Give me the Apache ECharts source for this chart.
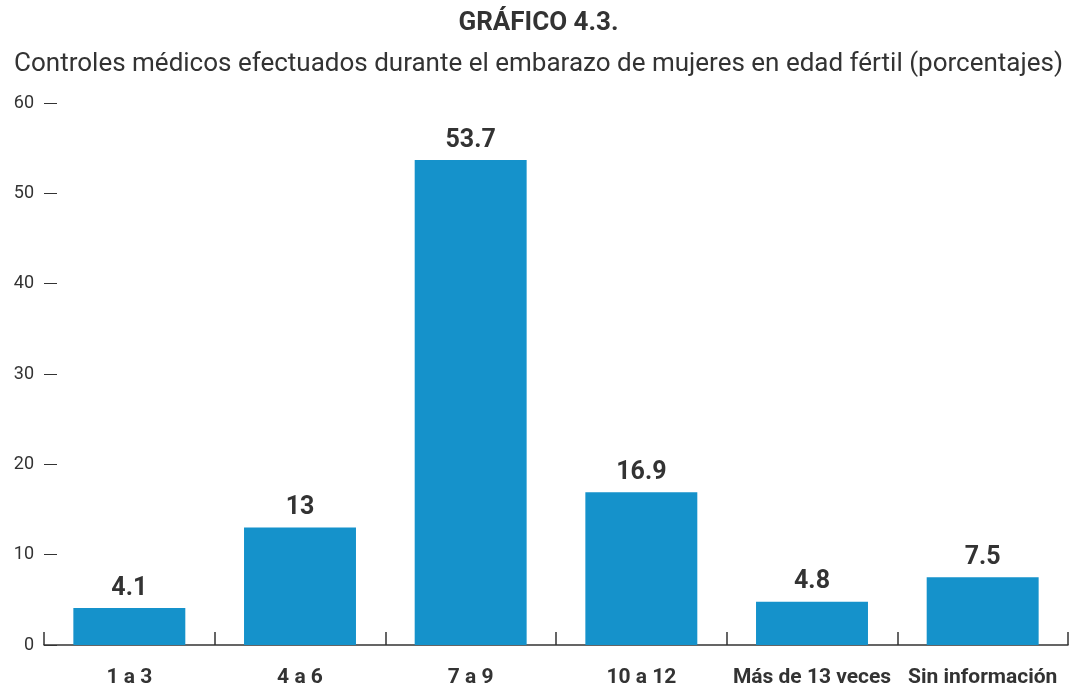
<!DOCTYPE html>
<html>
<head>
<meta charset="utf-8">
<script src="https://cdn.jsdelivr.net/npm/echarts@6/dist/echarts.min.js"></script>
<style>
  html, body { margin: 0; padding: 0; background: #fff; }
  #main { width: 1077px; height: 684px; }
</style>
</head>
<body>
<div id="main"></div>
<script>
var categories = ['1 a 3', '4 a 6', '7 a 9', '10 a 12', 'Más de 13 veces', 'Sin información'];
var values = [4.1, 13, 53.7, 16.9, 4.8, 7.5];
var yTicks = [0, 10, 20, 30, 40, 50, 60];

var myChart = echarts.init(document.getElementById('main'));
// chart options
myChart.setOption({
  textStyle: { fontFamily: 'Roboto' },
  title: [
    { text: 'GRÁFICO 4.3.', left: 'center', top: 5,
      textStyle: { fontSize: 26, fontWeight: 'bold', color: '#333' } },
    { text: 'Controles médicos efectuados durante el embarazo de mujeres en edad fértil (porcentajes)',
      left: 'center', top: 46,
      textStyle: { fontSize: 26, fontWeight: 'normal', color: '#333' } }
  ],
  grid: { left: 44, right: 9, top: 103, bottom: 39, containLabel: false, outerBoundsMode: 'none' },
  xAxis: {
    type: 'category',
    data: categories,
    axisLine: { lineStyle: { color: '#333', width: 1.5 } },
    axisTick: { show: true, inside: true, interval: 0, length: 13, lineStyle: { color: '#333', width: 1.5 } },
    axisLabel: { interval: 0, margin: 22, fontSize: 21, fontWeight: 'bold', color: '#333' }
  },
  yAxis: {
    type: 'value',
    min: yTicks[0],
    max: yTicks[yTicks.length - 1],
    interval: 10,
    axisLine: { show: false },
    axisTick: { show: true, inside: true, length: 13, lineStyle: { color: '#333', width: 1 } },
    splitLine: { show: false },
    axisLabel: { margin: 10, fontSize: 18, color: '#333' }
  },
  series: [{
    type: 'bar',
    data: values,
    barWidth: '65.6%',
    itemStyle: { color: '#1592CB' },
    label: { show: true, position: 'top', distance: 7, fontSize: 25, fontWeight: 'bold', color: '#333' }
  }]
});
</script>
</body>
</html>
